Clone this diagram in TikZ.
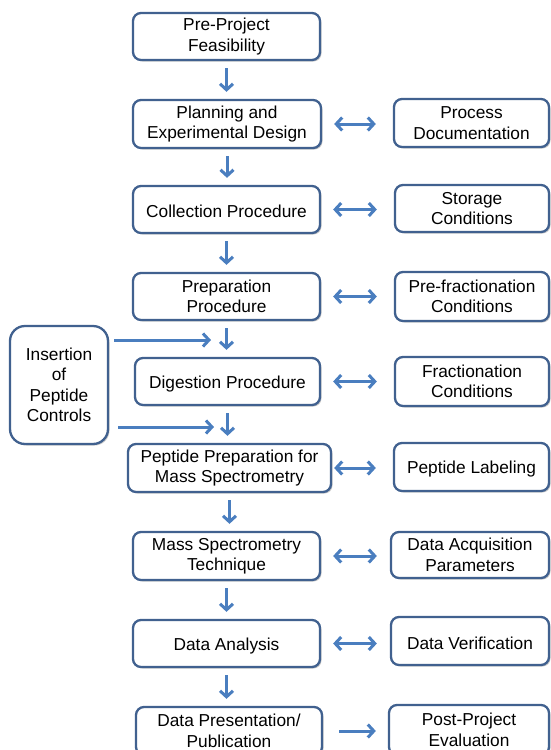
\documentclass[tikz,border=0pt]{standalone}
\usepackage{fontspec}
\setmainfont{Liberation Sans}
\usetikzlibrary{arrows.meta,shadows}
\definecolor{bord}{HTML}{41618F}
\definecolor{arr}{HTML}{4A7EBF}
\tikzset{
  box/.style={draw=bord, line width=2.3pt, rounded corners=8pt, fill=white,
    align=center, inner sep=0pt, font=\fontsize{17.3}{20.5}\selectfont,
    execute at begin node={\rule{0pt}{17pt}},
    drop shadow={shadow xshift=1.5pt, shadow yshift=-1.5pt, opacity=0.35, fill=black!60}},
  va/.style={draw=arr, line width=3pt, -{Straight Barb[length=6pt,width=13pt,line width=3pt]}},
  da/.style={draw=arr, line width=3pt, {Straight Barb[length=6pt,width=13pt,line width=3pt]}-{Straight Barb[length=6pt,width=13pt,line width=3pt]}},
}
\begin{document}
\begin{tikzpicture}[x=1pt,y=-1pt]
\useasboundingbox (0,0) rectangle (550,750);
% left column
\node[box, minimum width=187pt, minimum height=47pt] (b1) at (226.5,36.5) {Pre-Project\\Feasibility};
\node[box, minimum width=188pt, minimum height=48pt] (b2) at (227,124) {Planning and\\Experimental Design};
\node[box, minimum width=187pt, minimum height=47pt] (b3) at (226.5,209.5) {Collection Procedure};
\node[box, minimum width=187pt, minimum height=47pt] (b4) at (226.5,296.5) {Preparation\\Procedure};
\node[box, minimum width=185pt, minimum height=47pt] (b5) at (227.5,381.5) {Digestion Procedure};
\node[box, minimum width=203pt, minimum height=48pt] (b6) at (229.5,468) {Peptide Preparation for\\Mass Spectrometry};
\node[box, minimum width=187pt, minimum height=48pt] (b7) at (226.5,556) {Mass Spectrometry\\Technique};
\node[box, minimum width=187pt, minimum height=47pt] (b8) at (226.5,643.5) {Data Analysis};
\node[box, minimum width=186pt, minimum height=48pt] (b9) at (229,731) {Data Presentation/\\Publication};
% right column
\node[box, minimum width=155pt, minimum height=48pt] (r2) at (471.5,123) {Process\\Documentation};
\node[box, minimum width=154pt, minimum height=47pt] (r3) at (472,208.5) {Storage\\Conditions};
\node[box, minimum width=154pt, minimum height=49pt] (r4) at (472,296.5) {Pre-fractionation\\Conditions};
\node[box, minimum width=154pt, minimum height=49pt] (r5) at (472,381.5) {Fractionation\\Conditions};
\node[box, minimum width=155pt, minimum height=48pt] (r6) at (471.5,467) {Peptide Labeling};
\node[box, minimum width=158pt, minimum height=46pt] (r7) at (470,555) {Data Acquisition\\Parameters};
\node[box, minimum width=158pt, minimum height=48pt] (r8) at (470,641) {Data Verification};
\node[box, minimum width=160pt, minimum height=50pt] (r9) at (469,730) {Post-Project\\Evaluation};
% insertion box
\node[box, rounded corners=15pt, minimum width=98pt, minimum height=118pt] (ins) at (59,385) {Insertion\\of\\Peptide\\Controls};
% vertical arrows
\foreach \a/\b in {b1/b2,b2/b3,b3/b4,b4/b5,b5/b6,b6/b7,b7/b8,b8/b9}{
  \draw[va, shorten <=7pt, shorten >=7pt] (\a.south) -- (\a.south |- \b.north);
}
% double arrows
\draw[da, shorten <=12pt, shorten >=17pt] (b2.east) -- (r2.west |- b2.east);
\draw[da, shorten <=12pt, shorten >=17pt] (b3.east) -- (r3.west |- b3.east);
\draw[da, shorten <=12pt, shorten >=17pt] (b4.east) -- (r4.west |- b4.east);
\draw[da, shorten <=12pt, shorten >=17pt] (b5.east) -- (r5.west |- b5.east);
\draw[da, shorten <=2pt, shorten >=17pt] (b6.east) -- (r6.west |- b6.east);
\draw[da, shorten <=12pt, shorten >=13pt] (b7.east) -- (r7.west |- b7.east);
\draw[da, shorten <=12pt, shorten >=13pt] (b8.east) -- (r8.west |- b8.east);
\draw[va, shorten <=16pt, shorten >=12pt] (b9.east) -- (r9.west |- b9.east);
% insertion arrows
\coordinate (t1) at (211,340);
\coordinate (t2) at (214,427);
\draw[va, shorten <=5pt] (ins.east |- t1) -- (t1);
\draw[va, shorten <=9pt] (ins.east |- t2) -- (t2);
\end{tikzpicture}
\end{document}
